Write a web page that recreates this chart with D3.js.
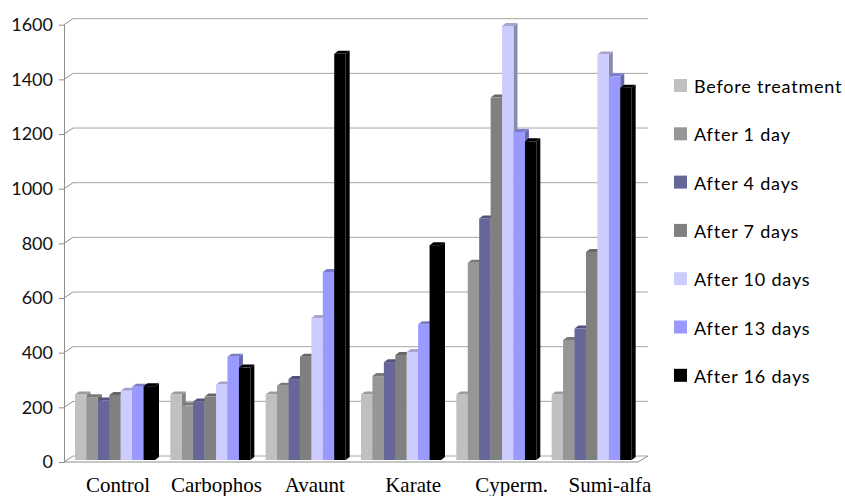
<!DOCTYPE html>
<html>
<head>
<meta charset="utf-8">
<script src="https://cdn.jsdelivr.net/npm/d3@7"></script>
<style>
  body { margin: 0; background: #fff; }
  svg { display: block; }
</style>
</head>
<body>
<div id="chart"></div>
<script>
const categories = ["Control", "Carbophos", "Avaunt", "Karate", "Cyperm.", "Sumi-alfa"];
const seriesNames = ["Before treatment", "After 1 day", "After 4 days", "After 7 days", "After 10 days", "After 13 days", "After 16 days"];
const seriesColors = ["#C0C0C0", "#969696", "#666699", "#808080", "#CCCCFF", "#9999FF", "#000000"];

const beforeTreatment = [240, 240, 240, 240, 240, 240];
const after1Day = [230, 200, 272, 307, 722, 439];
const after4Days = [218, 214, 296, 358, 884, 481];
const after7Days = [238, 232, 378, 384, 1326, 761];
const after10Days = [253, 276, 520, 395, 1588, 1484];
const after13Days = [268, 378, 688, 497, 1200, 1404];
const after16Days = [270, 338, 1486, 786, 1166, 1362];

const yTicks = [0, 200, 400, 600, 800, 1000, 1200, 1400, 1600];

const seriesValues = [beforeTreatment, after1Day, after4Days, after7Days, after10Days, after13Days, after16Days];

let width = 845, height = 496;
// 3d offsets of the back wall and of the bar depth
let wallDx = 9, wallDy = 6;
let barDx = 4, barDy = 3;

const svg = d3.select("#chart")
    .append("svg")
    .attr("width", width)
    .attr("height", height)
    .attr("viewBox", [0, 0, width, height]);

// axis on the front plane
let yAxisScale = d3.scaleLinear()
    .domain([0, 1600])
    .range([462, 24.7]);

// bars sit a little behind the front plane
let yBar = d3.scaleLinear()
    .domain([0, 1600])
    .range([460, 460 - 437.3]);

let xScale = d3.scaleBand()
    .domain(categories)
    .range([64, 636])
    .padding(0);

let xInner = d3.scaleBand()
    .domain(seriesNames)
    .range([11, 91])
    .padding(0);

let xLabel = d3.scalePoint()
    .domain(categories)
    .range([118, 610]);

const color = d3.scaleOrdinal()
    .domain(seriesNames)
    .range(seriesColors);

const wrapper = svg.append("g");

// back wall gridlines and side wall connectors
wrapper.selectAll(".grid")
    .data(yTicks)
    .enter().append("line")
    .attr("class", "grid")
    .attr("x1", 64 + wallDx)
    .attr("x2", 648)
    .attr("y1", d => yAxisScale(d) - wallDy)
    .attr("y2", d => yAxisScale(d) - wallDy)
    .attr("stroke", "#a6a6a6")
    .attr("stroke-width", 1);

wrapper.selectAll(".side")
    .data(yTicks)
    .enter().append("line")
    .attr("class", "side")
    .attr("x1", 64)
    .attr("x2", 64 + wallDx)
    .attr("y1", d => yAxisScale(d))
    .attr("y2", d => yAxisScale(d) - wallDy)
    .attr("stroke", "#8c8c8c")
    .attr("stroke-width", 1);

// floor front edge + right slant
wrapper.append("path")
    .attr("d", `M64,${yAxisScale(0)}H638L648,${yAxisScale(0) - wallDy}`)
    .attr("fill", "none")
    .attr("stroke", "#8c8c8c")
    .attr("stroke-width", 1);

// y axis
const yAxis = wrapper.append("g")
    .attr("transform", "translate(64,0)")
    .call(d3.axisLeft(yAxisScale).tickValues(yTicks).tickFormat(d3.format("d"))
        .tickSize(5).tickSizeOuter(0).tickPadding(6));

yAxis.select(".domain").attr("stroke", "#8c8c8c");
yAxis.selectAll(".tick line").attr("stroke", "#8c8c8c");
yAxis.selectAll(".tick text")
    .attr("font-family", "Lato, 'Open Sans', sans-serif")
    .attr("font-size", 18)
    .attr("fill", "#111");

// flatten to one record per bar, drawn left to right so later fronts hide earlier sides
const bars = [];
categories.forEach((c, i) => {
    seriesNames.forEach((s, j) => {
        bars.push({ cat: c, series: s, value: seriesValues[j][i] });
    });
});

const barGroup = wrapper.selectAll(".bar")
    .data(bars)
    .enter().append("g")
    .attr("class", "bar")
    .attr("transform", d => `translate(${xScale(d.cat) + xInner(d.series)},0)`);

let bw = xInner.bandwidth();

// right side face
barGroup.append("path")
    .attr("d", d => {
        let y0 = yBar(0), y1 = yBar(d.value);
        return `M${bw},${y1}L${bw + barDx},${y1 - barDy}L${bw + barDx},${y0 - barDy}L${bw},${y0}Z`;
    })
    .attr("fill", d => d3.color(color(d.series)).darker(1.1));

// top face
barGroup.append("path")
    .attr("d", d => {
        let y1 = yBar(d.value);
        return `M0,${y1}L${barDx},${y1 - barDy}L${bw + barDx},${y1 - barDy}L${bw},${y1}Z`;
    })
    .attr("fill", d => d3.color(color(d.series)).darker(0.6));

// front face
barGroup.append("rect")
    .attr("x", 0)
    .attr("y", d => yBar(d.value))
    .attr("width", bw)
    .attr("height", d => yBar(0) - yBar(d.value))
    .attr("fill", d => color(d.series));

// category labels
wrapper.selectAll(".catLabel")
    .data(categories)
    .enter().append("text")
    .attr("class", "catLabel")
    .attr("x", d => xLabel(d))
    .attr("y", 492)
    .attr("text-anchor", "middle")
    .attr("font-family", "'Liberation Serif', 'Times New Roman', serif")
    .attr("font-size", 21)
    .attr("fill", "#000")
    .text(d => d);

// legend
const legend = svg.append("g")
    .attr("transform", "translate(674,79)");

const legendItem = legend.selectAll(".legendItem")
    .data(seriesNames)
    .enter().append("g")
    .attr("class", "legendItem")
    .attr("transform", (d, i) => `translate(0,${i * 48.3})`);

legendItem.append("rect")
    .attr("width", 13)
    .attr("height", 13)
    .attr("fill", d => color(d));

legendItem.append("text")
    .attr("x", 20)
    .attr("y", 14)
    .attr("font-family", "Lato, 'Open Sans', sans-serif")
    .attr("font-size", 18)
    .attr("letter-spacing", 0.8)
    .attr("fill", "#000")
    .text(d => d);
</script>
</body>
</html>
